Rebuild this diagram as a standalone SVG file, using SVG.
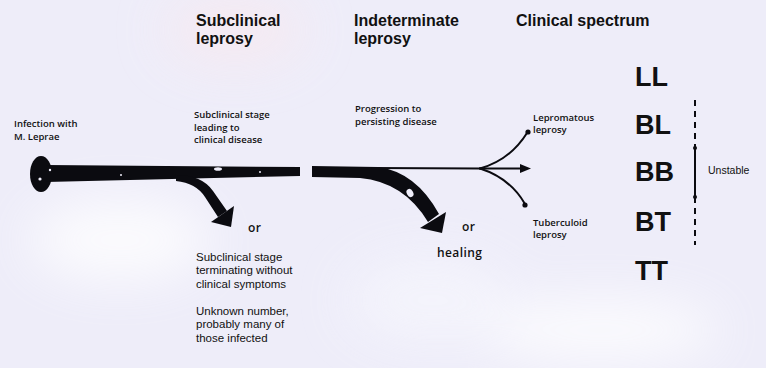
<svg xmlns="http://www.w3.org/2000/svg" width="766" height="368" viewBox="0 0 766 368">
<style>
text{font-family:"Liberation Sans",Arial,sans-serif;fill:#111;}
.h{font-size:16px;font-weight:bold;}
.s{font-family:"Open Sans","Liberation Sans",sans-serif;font-size:9.5px;font-weight:600;}
.m{font-size:11.5px;}
.o{font-family:"Open Sans","Liberation Sans",sans-serif;font-size:12px;font-weight:600;letter-spacing:0.4px;}
.c{font-size:27px;font-weight:bold;}
.ink{fill:#0b0b10;}
.thin{fill:none;stroke:#0b0b10;stroke-width:2;stroke-linecap:round;}
</style>
<defs>
<filter id="blur" x="-50%" y="-50%" width="200%" height="200%"><feGaussianBlur stdDeviation="25"/></filter>
</defs>
<rect width="766" height="368" fill="#eeedf9"/>
<g filter="url(#blur)" opacity="0.8">
<ellipse cx="235" cy="30" rx="70" ry="35" fill="#f7e9f0"/>
<ellipse cx="120" cy="240" rx="90" ry="40" fill="#ffffff"/>
<ellipse cx="600" cy="330" rx="120" ry="30" fill="#ffffff"/>
<ellipse cx="430" cy="300" rx="80" ry="40" fill="#f6f6fd"/>
</g>

<g id="headings">
<g id="h-subclinical"><text class="h" x="196" y="26">Subclinical</text><text class="h" x="196" y="44">leprosy</text></g>
<g id="h-indeterminate"><text class="h" x="354" y="26">Indeterminate</text><text class="h" x="354" y="44">leprosy</text></g>
<g id="h-clinical"><text class="h" x="516" y="26">Clinical spectrum</text></g>
</g>

<g id="n-infection"><text class="s" x="14" y="127">Infection with</text><text class="s" x="14" y="140">M. Leprae</text></g>
<g id="n-subclinical-stage"><text class="s" x="194" y="118">Subclinical stage</text><text class="s" x="194" y="130.5">leading to</text><text class="s" x="194" y="143">clinical disease</text></g>
<g id="n-progression"><text class="s" x="355" y="112">Progression to</text><text class="s" x="355" y="125">persisting disease</text></g>
<g id="n-lepromatous"><text class="s" x="533" y="120.5">Lepromatous</text><text class="s" x="533" y="133">leprosy</text></g>
<g id="n-tuberculoid"><text class="s" x="533" y="225.5">Tuberculoid</text><text class="s" x="533" y="238">leprosy</text></g>
<g id="n-or1"><text class="o" x="248" y="232">or</text></g>
<g id="n-or2"><text class="o" x="462" y="231">or</text></g>
<g id="n-healing"><text class="o" x="437" y="257">healing</text></g>
<g id="n-terminating"><text class="m" x="196" y="261">Subclinical stage</text><text class="m" x="196" y="274.3">terminating without</text><text class="m" x="196" y="287.6">clinical symptoms</text></g>
<g id="n-unknown"><text class="m" x="196" y="315">Unknown number,</text><text class="m" x="196" y="328.3">probably many of</text><text class="m" x="196" y="341.6">those infected</text></g>

<g id="spectrum">
<g id="n-LL"><text class="c" x="635" y="86">LL</text></g>
<g id="n-BL"><text class="c" x="635" y="134">BL</text></g>
<g id="n-BB"><text class="c" x="635" y="181">BB</text></g>
<g id="n-BT"><text class="c" x="635" y="231">BT</text></g>
<g id="n-TT"><text class="c" x="635" y="280">TT</text></g>
<g id="n-unstable"><text x="708" y="174" style="font-size:10.5px">Unstable</text></g>
</g>

<g id="connectors">
<!-- infection blob and main bar -->
<ellipse class="ink" cx="41" cy="174" rx="11" ry="18"/>
<path class="ink" d="M46,165 L300,167 L300,176 L46,182 Z"/>
<!-- branch 1 -->
<path class="ink" d="M176,175 Q202,175 213,191 L227,211 L218,217 L205,197 Q196,183 176,181 Z"/>
<polygon class="ink" points="211,222 231,227 234,206"/>
<!-- second segment -->
<path class="ink" d="M312,166 L378,167 Q416,172 439,214 L428,222 Q404,182 360,178 L312,177 Z"/>
<polygon class="ink" points="420,228 442,233 446,212"/>
<path class="thin" d="M372,168 L480,168.5"/>
<!-- fork -->
<path class="thin" d="M480,168.5 Q510,160 527,133"/>
<path class="thin" d="M480,168.5 L524,168.5"/>
<polygon class="ink" points="520,164 531,168.5 520,173"/>
<path class="thin" d="M480,168.5 Q510,178 525,204"/>
<circle class="ink" cx="528" cy="132" r="2.6"/>
<circle class="ink" cx="525" cy="205" r="2.6"/>
<!-- specks -->
<g fill="#eeedf9">
<circle cx="40" cy="179" r="1.6"/>
<circle cx="50" cy="170" r="1.2"/>
<circle cx="121" cy="175" r="1"/>
<ellipse cx="218" cy="169" rx="4" ry="1.8"/>
<circle cx="260" cy="172" r="1"/>
<ellipse cx="410" cy="193" rx="3.2" ry="4.2" transform="rotate(-30 410 193)"/>
</g>
<!-- unstable range -->
<path d="M695,100 V148 M695,197 V245" fill="none" stroke="#0b0b10" stroke-width="2" stroke-dasharray="6 5"/>
<path d="M695,148 V197" fill="none" stroke="#0b0b10" stroke-width="2"/>
<circle class="ink" cx="695" cy="148" r="2"/>
<circle class="ink" cx="695" cy="197" r="2"/>
</g>
</svg>
